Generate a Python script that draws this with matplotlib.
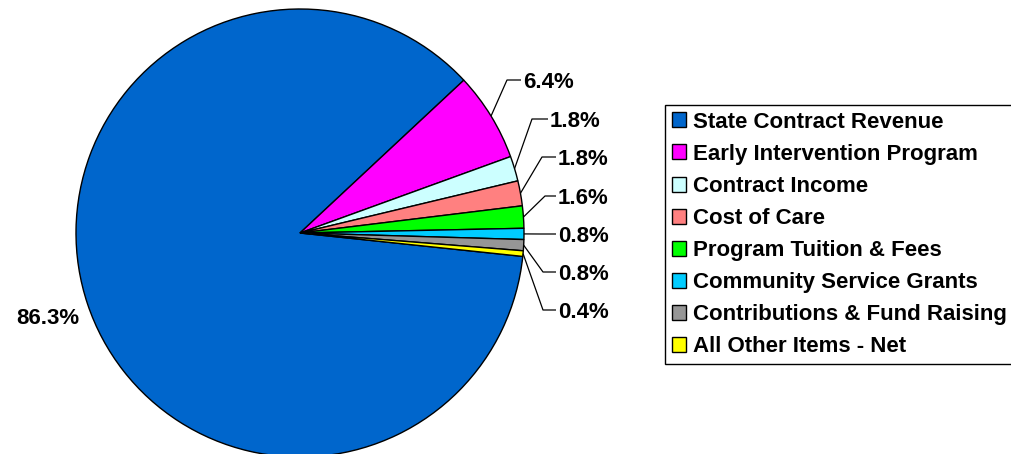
import numpy as np
import matplotlib.pyplot as plt
from matplotlib.patches import Patch

plt.rcParams['font.family'] = ['Liberation Sans', 'DejaVu Sans']
plt.rcParams['font.weight'] = 'bold'

# data
categories = ['State Contract Revenue', 'Early Intervention Program', 'Contract Income',
              'Cost of Care', 'Program Tuition & Fees', 'Community Service Grants',
              'Contributions & Fund Raising', 'All Other Items - Net']
shares = [86.3, 6.4, 1.8, 1.8, 1.6, 0.8, 0.8, 0.4]
colors = ['#0066CC', '#FF00FF', '#CCFFFF', '#FF8080', '#00FF00', '#00CCFF', '#969696', '#FFFF00']

# layout in pixels of the 1011x454 canvas
W, H = 1011, 454
CX, CY, R = 300, 233, 224
# (elbow x, label y, line end x) for each slice label, None = no leader
leaders = [None, (507, 80, 521), (532, 119, 548), (542, 157, 556), (545, 196, 556),
           (540, 234, 556), (543, 272, 556), (543, 310, 556)]
big_label_pos = (79, 316)


def pix(px, py):
    return (px - CX) / R, (CY - py) / R


fig = plt.figure(figsize=(W / 100, H / 100), dpi=100)
ax = fig.add_axes([0, 0, 1, 1])
wedges, _ = ax.pie(shares, colors=colors, startangle=-6, counterclock=False, radius=1,
                   wedgeprops=dict(edgecolor='black', linewidth=1))
ax.set_aspect('auto')
ax.set_xlim(-CX / R, (W - CX) / R)
ax.set_ylim(-(H - CY) / R, CY / R)
ax.axis('off')

cap = 8  # half cap height in px, to centre digits on the leader line
for w, v, lead in zip(wedges, shares, leaders):
    txt = f'{v:.1f}%'
    if lead is None:
        tx, ty = pix(big_label_pos[0], big_label_pos[1] + cap)
        ax.text(tx, ty, txt, ha='right', va='baseline', fontsize=16, fontweight='bold')
        continue
    mid = np.deg2rad((w.theta1 + w.theta2) / 2)
    x0, y0 = np.cos(mid), np.sin(mid)
    ex, ey = pix(lead[0], lead[1])
    lx, _ = pix(lead[2], lead[1])
    ax.plot([x0, ex, lx], [y0, ey, ey], color='black', lw=0.9, solid_capstyle='butt')
    tx, ty = pix(lead[2] + 2, lead[1] + cap)
    ax.text(tx, ty, txt, ha='left', va='baseline', fontsize=16, fontweight='bold')

handles = [Patch(facecolor=c, edgecolor='black', linewidth=1) for c in colors]
leg = fig.legend(handles, categories, loc='upper left',
                 bbox_to_anchor=(665 / W, 1 - 105 / H), borderaxespad=0,
                 prop=dict(family='Liberation Sans', weight='bold', size=16),
                 handlelength=0.66, handleheight=0.66, handletextpad=0.28,
                 labelspacing=0.5, borderpad=0.3, fancybox=False, framealpha=1)
leg.get_frame().set_edgecolor('black')
leg.get_frame().set_linewidth(1)

fig.savefig('out.png', dpi=100)
